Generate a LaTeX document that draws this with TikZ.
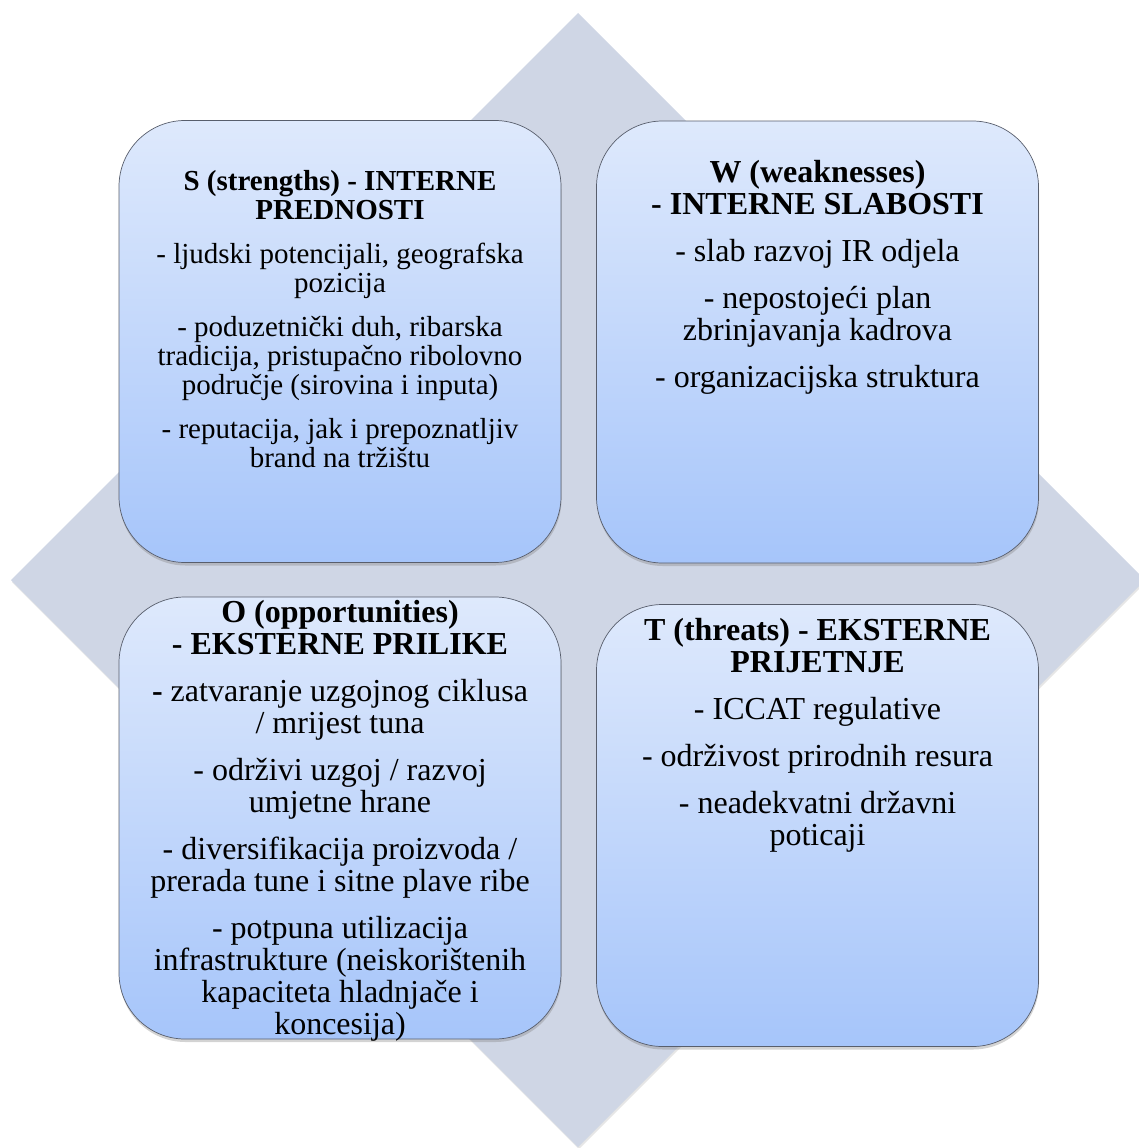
\documentclass[tikz,border=0pt]{standalone}
\usepackage{fontspec}
\setmainfont{Liberation Serif}
\usetikzlibrary{calc,shadows}
\definecolor{diamondFill}{RGB}{207,214,229}
\definecolor{boxTop}{RGB}{222,233,252}
\definecolor{boxBottom}{RGB}{166,197,250}
\definecolor{boxEdge}{RGB}{88,94,108}

\begin{document}
\begin{tikzpicture}[
  x=1pt,
  y=-1pt,
  line join=round,
  every node/.style={align=center, text=black}
]

% ---------- node styles ----------
\tikzset{
  swotBox/.style={draw=boxEdge, line width=0.7pt, rounded corners=66pt, top color=boxTop, bottom color=boxBottom, minimum width=442pt, minimum height=442pt, inner sep=0pt, drop shadow={shadow xshift=0.5pt, shadow yshift=-3pt, opacity=0.35}},
  boxText/.style={anchor=north, inner sep=0pt, font=\fontsize{32}{32}\selectfont},
  smallText/.style={boxText, font=\fontsize{29}{29}\selectfont}
}

\useasboundingbox (0,0) rectangle (1138,1148);

% ---------- background diamond ----------
\fill[diamondFill, drop shadow={shadow xshift=1pt, shadow yshift=-2pt, opacity=0.2}]
  (578,13) -- (1145,580) -- (578,1147) -- (11,580) -- cycle;

% ---------- four boxes ----------
\node[swotBox] (sBox) at (340,341.5) {};
\node[swotBox] (wBox) at (817.5,342) {};
\node[swotBox] (oBox) at (340,818) {};
\node[swotBox] (tBox) at (817.5,825.5) {};

% ---------- texts ----------
\node[smallText] (sText) at ($(sBox.north)+(0,50)$) {%
  \textbf{S (strengths) - INTERNE}\\\textbf{PREDNOSTI}\\[15pt]
  - ljudski potencijali, geografska\\pozicija\\[15pt]
  - poduzetnički duh, ribarska\\tradicija, pristupačno ribolovno\\područje (sirovina i inputa)\\[15pt]
  - reputacija, jak i prepoznatljiv\\brand na tržištu};

\node[boxText] (wText) at ($(wBox.north)+(0,39)$) {%
  \textbf{W (weaknesses)}\\\textbf{- INTERNE SLABOSTI}\\[15pt]
  - slab razvoj IR odjela\\[15pt]
  - nepostojeći plan\\zbrinjavanja kadrova\\[15pt]
  - organizacijska struktura};

\node[boxText] (oText) at ($(oBox.north)+(0,3)$) {%
  \textbf{O (opportunities)}\\\textbf{- EKSTERNE PRILIKE}\\[15pt]
  \textbf{-} zatvaranje uzgojnog ciklusa\\/ mrijest tuna\\[15pt]
  - održivi uzgoj / razvoj\\umjetne hrane\\[15pt]
  - diversifikacija proizvoda /\\prerada tune i sitne plave ribe\\[15pt]
  - potpuna utilizacija\\infrastrukture (neiskorištenih\\kapaciteta hladnjače i\\koncesija)};

\node[boxText] (tText) at ($(tBox.north)+(0,14)$) {%
  \textbf{T (threats) - EKSTERNE}\\\textbf{PRIJETNJE}\\[15pt]
  - ICCAT regulative\\[15pt]
  - održivost prirodnih resura\\[15pt]
  - neadekvatni državni\\poticaji};

\end{tikzpicture}
\end{document}
